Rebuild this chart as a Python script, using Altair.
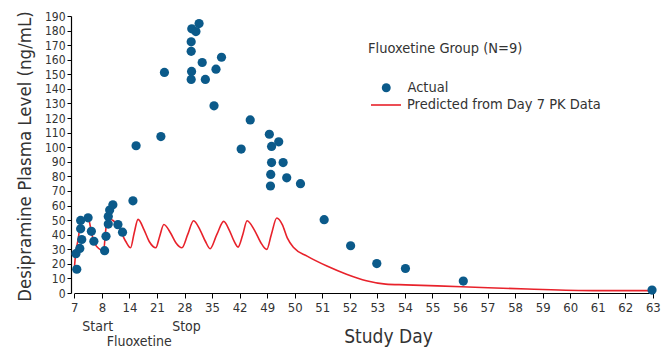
import altair as alt
import pandas as pd

# Study-day ticks (axis is non-linear: each tick equally spaced)
tick_days = [7, 8, 14, 21, 28, 35, 42, 49, 50, 51, 52, 53, 54, 55, 56, 57, 58, 59, 60, 61, 62, 63]

# Actual observations
act_day = [7.06, 7.09, 7.20, 7.23, 7.23, 7.27, 7.50, 7.62, 7.71, 8.6, 8.9, 9.4, 9.4, 9.7, 10.4,
           11.5, 12.5, 14.9, 15.7, 22.0, 22.9, 29.7, 29.7, 29.7, 29.8, 29.85, 30.9, 31.7, 32.5,
           33.3, 35.5, 36.0, 37.4, 42.4, 44.7, 49.08, 49.12, 49.13, 49.16, 49.16, 49.42, 49.58,
           49.71, 50.21, 51.07, 52.03, 52.98, 54.02, 56.12, 62.97]
act_val = [27, 16.3, 30.6, 49.8, 44, 36.7, 51.6, 42.3, 35.5, 29, 38.9, 47.3, 52.5, 56.9, 60.5,
           46.9, 41.7, 63.2, 101, 107.3, 151.3, 172.3, 165.8, 146.5, 152, 181.2, 179.3, 184.8, 158.1,
           146.5, 128.4, 153.5, 161.7, 98.7, 118.7, 108.9, 73.4, 81.3, 100.5, 89.5, 103.7, 89.5,
           79, 75, 50.3, 32.4, 20.2, 16.8, 8.2, 2]

# Predicted curve
pred_day = [7.0, 7.05, 7.15, 7.23, 7.5, 7.62, 7.73, 8.39, 8.8, 9.25, 10.3, 11.4, 13.18, 14.3,
            15.2, 16.2, 17.7, 19.0, 20.7, 21.7, 22.75, 24.5, 25.8, 27.35, 28.8, 30.3, 32.0, 33.3,
            34.5, 36.2, 37.95, 39.4, 40.6, 41.6, 42.8, 43.9, 45.8, 47.3, 48.9, 49.15, 49.35,
            49.55, 49.73, 49.97, 50.45, 51.17, 51.88, 52.6, 53.3, 54.03, 56.06, 58.45, 60.84, 62.87]
pred_val = [16.5, 27, 38, 49, 51.5, 42, 34, 29, 42, 51.5, 50, 47, 35.5, 31,
            41, 50.5, 43.5, 35.5, 31, 39, 47, 41, 34.5, 31, 40, 49.6, 43, 35.5,
            30.4, 40, 49.1, 43, 35.5, 31.5, 40, 49.6, 43, 35, 29.9, 40, 51.4,
            46.9, 37.8, 31, 25.3, 18.5, 12.9, 8.4, 6.1, 5.6, 4.3, 2.7, 1.6, 1.6]

y_ticks = list(range(0, 191, 10))

annot_text = ["Start", "Fluoxetine", "Stop"]
annot_day = [7.85, 16.5, 28.5]
annot_row = [0, 1, 0]

legend_title = "Fluoxetine Group (N=9)"
act_name = "Actual"
pred_name = "Predicted from Day 7 PK  Data"

FONT = "DejaVu Sans Condensed, Liberation Sans, sans-serif"
BLUE = "#0b5a8a"
RED = "#e8222b"
TXT = "#333333"

W, H = 590, 277
rng = [3.3 + 27.55 * i for i in range(len(tick_days))]

act = pd.DataFrame({"day": act_day, "val": act_val, "series": act_name})
pred = pd.DataFrame({"day": pred_day, "val": pred_val, "series": pred_name})
ann = pd.DataFrame({"day": annot_day, "txt": annot_text, "row": annot_row})

xscale = alt.Scale(domain=tick_days, range=rng, nice=False, zero=False)
xaxis = alt.Axis(values=tick_days, title="Study Day", grid=False, labelFontSize=13,
                 labelPadding=3, tickSize=5, titleFontSize=19, titleFontWeight="normal",
                 titleX=317, titleY=49, titleBaseline="alphabetic", titleAlign="center",
                 labelFlush=False, labelOverlap=False, labelBound=False)
yscale = alt.Scale(domain=[0, 190], nice=False, zero=True)
yaxis = alt.Axis(values=y_ticks, title="Desipramine Plasma Level (ng/mL)", grid=False,
                 labelFontSize=12, labelPadding=2, tickSize=4, titleFontSize=18.5,
                 titleFontWeight="normal", titleX=-41, titleY=140, titleAngle=-90,
                 titleBaseline="alphabetic", titleAlign="center", labelOverlap=False)

X = alt.X("day:Q", scale=xscale, axis=xaxis)
Y = alt.Y("val:Q", scale=yscale, axis=yaxis)

line = alt.Chart(pred).mark_line(interpolate="monotone", strokeWidth=1.6).encode(
    x=X, y=Y,
    stroke=alt.Stroke("series:N", scale=alt.Scale(domain=[pred_name], range=[RED]),
                      legend=alt.Legend(title=None, orient="none", legendX=299, legendY=73,
                                        symbolType="stroke", symbolSize=900,
                                        symbolStrokeWidth=1.6, labelOffset=5,
                                        labelFontSize=14.5, labelLimit=400, labelColor=TXT)),
)

points = alt.Chart(act).mark_point(filled=True, size=85, opacity=1).encode(
    x=X, y=Y,
    fill=alt.Fill("series:N", scale=alt.Scale(domain=[act_name], range=[BLUE]),
                  legend=alt.Legend(title=legend_title, orient="none", legendX=297, legendY=26,
                                    titleFontSize=14.5, titleFontWeight="normal", titleColor=TXT,
                                    titlePadding=24, symbolSize=80, symbolOffset=11,
                                    labelOffset=14, labelFontSize=14.5, labelColor=TXT,
                                    titleLimit=400)),
)

ann_top = alt.Chart(ann).transform_filter("datum.row == 0").mark_text(
    fontSize=14, color=TXT, baseline="middle").encode(
    x=X, y=alt.value(311), text="txt:N")
ann_bot = alt.Chart(ann).transform_filter("datum.row == 1").mark_text(
    fontSize=14, color=TXT, baseline="middle").encode(
    x=X, y=alt.value(326), text="txt:N")

chart = alt.layer(line, points, ann_top, ann_bot).properties(
    width=W, height=H,
    autosize=alt.AutoSizeParams(type="none"),
    padding={"left": 63, "top": 8, "right": 0, "bottom": 55},
).configure(font=FONT).configure_view(stroke=None).configure_axis(
    domainColor="#000000", tickColor="#000000", labelColor=TXT, titleColor=TXT,
    labelFont=FONT, titleFont=FONT, domainWidth=1.2,
).configure_axisX(labelOverlap=False).configure_legend(labelFont=FONT, titleFont=FONT)

chart.save("out.html", embed_options={"renderer": "svg", "actions": False})
